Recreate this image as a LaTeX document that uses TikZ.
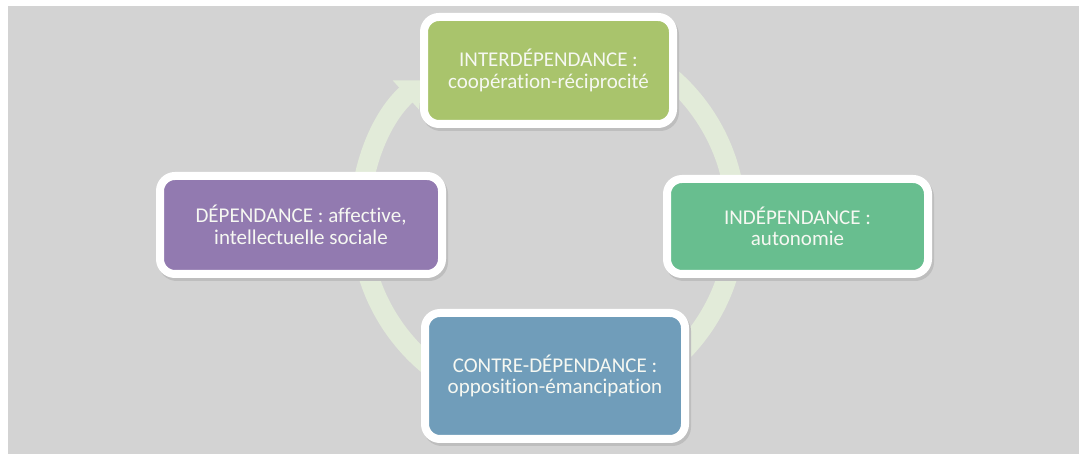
\documentclass[tikz,border=0pt]{standalone}
\usepackage{fontspec}
\setmainfont[Ligatures={CommonOff,ContextualOff}]{Carlito}
\usetikzlibrary{arrows.meta}
\definecolor{bg}{RGB}{211,211,211}
\definecolor{band}{RGB}{226,235,217}
\definecolor{cgreen}{RGB}{169,196,108}
\definecolor{cteal}{RGB}{104,190,143}
\definecolor{cblue}{RGB}{112,157,186}
\definecolor{cpurple}{RGB}{146,122,176}
\definecolor{shade}{RGB}{190,190,190}
\definecolor{txt}{RGB}{246,248,242}
\begin{document}
\begin{tikzpicture}[x=1pt,y=1pt,
  box/.style={draw=white, line width=8pt, rounded corners=15pt, text=txt,
    align=center, font=\fontsize{21}{21.5}\selectfont, inner sep=0pt,
    preaction={draw=shade, fill=shade, line width=8pt,
      transform canvas={xshift=2pt,yshift=-3pt}}},
  ring/.style={draw=band, line width=20pt}]
\useasboundingbox (0,0) rectangle (1079,454);
\fill[bg] (8,0) rectangle (1079,448);
\coordinate (c) at (548,234);
\draw[ring, -{Triangle[width=38pt,length=22pt]}] (c) ++(185:188) arc[start angle=185, end angle=132, radius=188];
\draw[ring] (c) ++(125:188) arc[start angle=125, end angle=-175, radius=188];
\node[box, fill=cgreen, minimum width=249pt, minimum height=107pt] (inter) at (548.5,383.5) {INTERDÉPENDANCE :\\coopération-réciprocité};
\node[box, fill=cteal, minimum width=261pt, minimum height=95pt] (inde) at (797.5,227.5) {INDÉPENDANCE :\\autonomie};
\node[box, fill=cblue, minimum width=260pt, minimum height=126pt] (contre) at (555,78) {CONTRE-DÉPENDANCE :\\opposition-émancipation};
\node[box, fill=cpurple, minimum width=282pt, minimum height=98pt] (dep) at (301,229) {DÉPENDANCE : affective,\\intellectuelle sociale};
\end{tikzpicture}
\end{document}
